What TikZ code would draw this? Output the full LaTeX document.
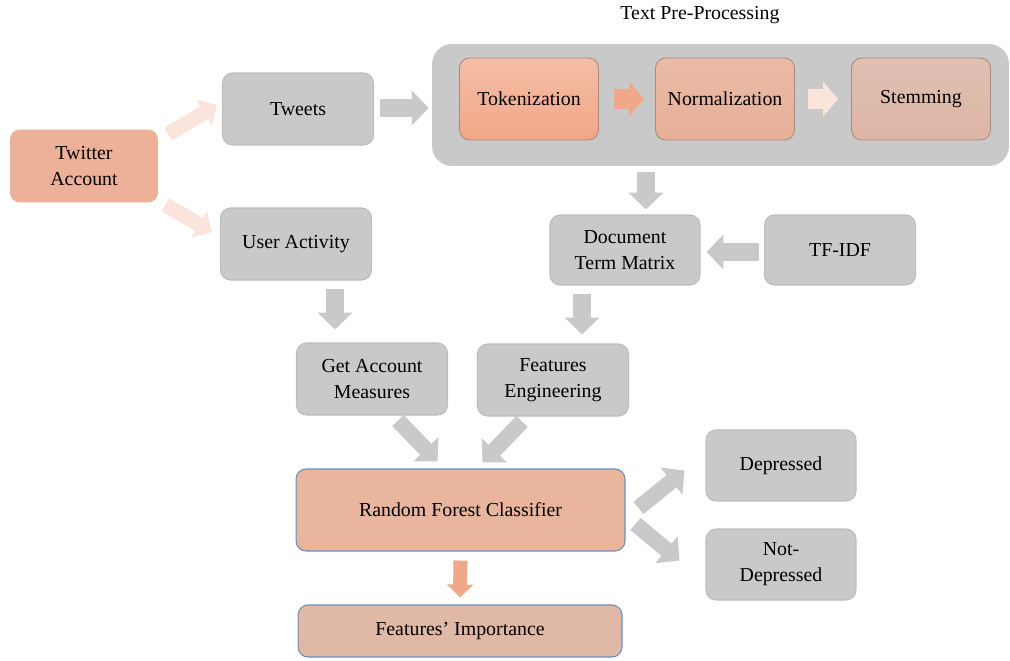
\documentclass[tikz,border=0pt]{standalone}
\usepackage{fontspec}
\setmainfont{Liberation Serif}
\usetikzlibrary{positioning,calc,arrows.meta}
\definecolor{boxgray}{HTML}{C9C9C9}
\definecolor{boxedge}{HTML}{BDBDBD}
\definecolor{salmon}{HTML}{EDB098}
\definecolor{rfcfill}{HTML}{E9B59C}
\definecolor{fifill}{HTML}{DFB9A6}
\definecolor{blueedge}{HTML}{6C8EBF}
\definecolor{procedge}{HTML}{A88A7E}
\definecolor{lightpink}{HTML}{FBE4DC}
\definecolor{darksalmon}{HTML}{EFA98A}
\definecolor{tokA}{HTML}{F3BEA8}
\definecolor{tokB}{HTML}{F2A686}
\definecolor{norA}{HTML}{EABBA7}
\definecolor{norB}{HTML}{E6AF98}
\definecolor{stmA}{HTML}{DFC0B3}
\definecolor{stmB}{HTML}{DDB5A5}
\tikzset{
graybox/.style={
draw=boxedge,fill=boxgray,line width=0.6pt,
rounded corners=0.2cm,
minimum width=3.02cm,minimum height=1.44cm,align=center},
procbox/.style={
draw=procedge,line width=0.5pt,
rounded corners=0.2cm,
minimum width=2.78cm,minimum height=1.64cm,align=center},
wide/.style={
draw=blueedge,line width=0.6pt,
rounded corners=0.2cm,
minimum width=6.58cm,align=center},
grayline/.style={draw=boxgray,line width=10.2pt,-{Triangle[length=9.6pt,width=19.3pt]}},
pinkline/.style={draw=lightpink,line width=8.5pt,-{Triangle[length=8.5pt,width=17pt]}},
procline/.style={line width=11.3pt,-{Triangle[length=8.5pt,width=19.3pt]}},
font={\fontsize{11.3pt}{14.7pt}\selectfont}
}
\begin{document}
\begin{tikzpicture}[x=0.02cm,y=-0.02cm]
  \useasboundingbox (0,0) rectangle (1010,660);
  % text pre-processing group
  \node (ttl) at (700,15) {Text Pre-Processing};
  \node[fill=boxgray,rounded corners=0.4cm,minimum width=11.54cm,minimum height=2.44cm] (prep) at (720.5,105) {};
  \node[procbox,top color=tokA,bottom color=tokB] at (529,99) (tok) {Tokenization};
  \node[procbox,top color=norA,bottom color=norB] at (725,99) (norm) {Normalization};
  \node[procbox,top color=stmA,bottom color=stmB] at (921,99) (stem) {Stemming};
  % inputs
  \node[fill=salmon,rounded corners=0.2cm,minimum width=2.96cm,minimum height=1.46cm,align=center] (twitter) at (84,166) {Twitter\\Account};
  \node[graybox] (tweets) at (298,109) {Tweets};
  \node[graybox] (user) at (296,244) {User Activity};
  \node[graybox,minimum width=3.0cm,minimum height=1.4cm] (dtm) at (625,250) {Document\\Term Matrix};
  \node[graybox,minimum height=1.4cm] (tfidf) at (840,250) {TF-IDF};
  \node[graybox] (ga) at (372,379) {Get Account\\Measures};
  \node[graybox] (fe) at (553,380) {Features\\Engineering};
  % classifier and outputs
  \node[wide,fill=rfcfill,minimum height=1.64cm] (rfc) at (460.5,510) {Random Forest Classifier};
  \node[wide,fill=fifill,minimum width=6.48cm,minimum height=1.04cm] (fi) at (460,631) {Features’ Importance};
  \node[graybox,minimum width=3.0cm,minimum height=1.42cm] (dep) at (781,465.5) {Depressed};
  \node[graybox,minimum width=3.0cm,minimum height=1.42cm] (notdep) at (781,564.5) {Not-\\Depressed};
  % arrows
  \draw[pinkline] ($(twitter.north east)+(10,5)$) -- ($(tweets.west)+(-5,-4)$);
  \draw[pinkline] ($(twitter.south east)+(7,2)$) -- ($(user.west)+(-8,-12)$);
  \draw[grayline] ($(tweets.east)+(6,-1)$) -- ($(tweets.east -| prep.west)+(-3,-1)$);
  \draw[procline,draw=darksalmon] ($(tok.east)+(15,0)$) -- ($(norm.west)+(-11,0)$);
  \draw[procline,draw=lightpink] ($(norm.east)+(13,0)$) -- ($(stem.west)+(-13,0)$);
  \draw[grayline] ($(dtm.north |- prep.south)+(21,6)$) -- ($(dtm.north)+(21,-5)$);
  \draw[grayline] ($(tfidf.west)+(-5,2)$) -- ($(dtm.east)+(6,2)$);
  \draw[grayline] ($(dtm.south)+(-43,8)$) -- ($(fe.north)+(29,-9)$);
  \draw[grayline] ($(user.south)+(39,8)$) -- ($(ga.north)+(-37,-13)$);
  \draw[grayline,line width=9pt] ($(ga.south)+(26,5)$) -- ($(rfc.north)+(-23,-7)$);
  \draw[grayline,line width=9pt] ($(fe.south)+(-31,5)$) -- ($(rfc.north)+(22,-6)$);
  \draw[grayline,line width=9pt] ($(rfc.east)+(13,-2)$) -- ($(dep.west)+(-21,5)$);
  \draw[grayline,line width=9pt] ($(rfc.east)+(10,14)$) -- ($(notdep.west)+(-26,-4)$);
  \draw[draw=darksalmon,line width=8pt,-{Triangle[length=7.4pt,width=14.7pt]}] ($(rfc.south)+(0,9)$) -- ($(fi.north)+(0,-7)$);
\end{tikzpicture}
\end{document}
